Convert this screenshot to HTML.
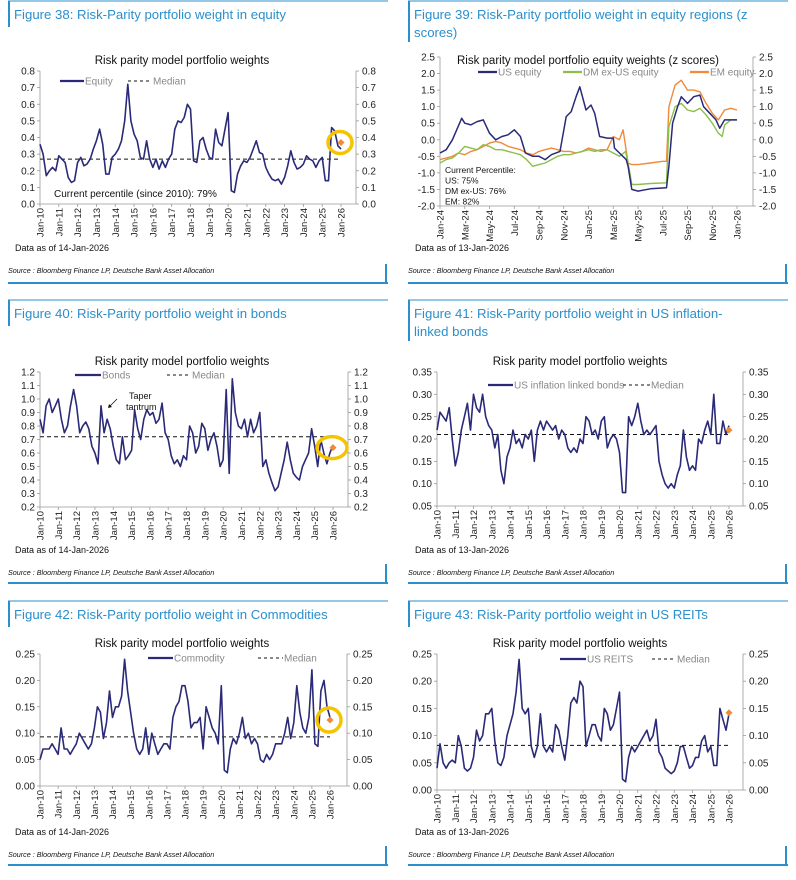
<!DOCTYPE html>
<html><head><meta charset="utf-8">
<style>
html,body{margin:0;padding:0;background:#fff;}
body{width:796px;height:880px;overflow:hidden;position:relative;font-family:"Liberation Sans",Arial,sans-serif;}
svg{position:absolute;left:0;top:0;}
</style></head>
<body>
<svg id="page" width="796" height="880" viewBox="0 0 796 880"></svg>
<script>
// ---------- DATA ----------
const yearLabels = ["Jan-10","Jan-11","Jan-12","Jan-13","Jan-14","Jan-15","Jan-16","Jan-17","Jan-18","Jan-19","Jan-20","Jan-21","Jan-22","Jan-23","Jan-24","Jan-25","Jan-26"];
// bi-monthly samples Jan-10 .. Jan-26
const equityValues = [0.36,0.30,0.17,0.20,0.22,0.20, 0.29,0.27,0.25,0.16,0.13,0.14, 0.25,0.28,0.23,0.24,0.27,0.33, 0.38,0.45,0.36,0.18,0.18,0.28, 0.30,0.33,0.38,0.50,0.72,0.50, 0.42,0.38,0.28,0.27,0.38,0.27, 0.22,0.27,0.21,0.26,0.22,0.27, 0.30,0.45,0.50,0.49,0.52,0.60, 0.57,0.26,0.25,0.38,0.40,0.33, 0.28,0.27,0.45,0.37,0.35,0.45, 0.55,0.08,0.07,0.18,0.23,0.26, 0.25,0.28,0.33,0.38,0.31,0.30, 0.22,0.18,0.15,0.14,0.15,0.12, 0.16,0.23,0.32,0.25,0.21,0.22, 0.24,0.29,0.27,0.26,0.22,0.26, 0.28,0.14,0.14,0.46,0.44,0.35, 0.33];
const equityMedian = 0.27, equityLatest = 0.37;
const bondValues = [0.85,0.75,0.95,1.00,0.90,0.95, 1.00,0.85,0.75,0.80,0.95,1.07, 0.95,0.75,0.80,0.83,0.78,0.65, 0.60,0.52,0.95,0.75,0.85,0.78, 0.65,0.55,0.52,0.72,0.55,0.58, 0.62,0.92,0.78,0.70,0.85,0.92, 0.88,0.90,0.82,0.85,0.97,0.75, 0.70,0.58,0.52,0.55,0.50,0.58, 0.55,0.80,0.75,0.60,0.65,0.82, 0.78,0.62,0.70,0.75,0.65,0.50, 0.55,1.07,0.45,1.15,0.90,0.80, 0.78,0.85,0.72,0.85,0.75,0.80, 0.90,0.50,0.55,0.45,0.38,0.32, 0.35,0.45,0.55,0.68,0.55,0.45, 0.42,0.40,0.50,0.55,0.60,0.78, 0.65,0.50,0.70,0.60,0.52,0.60, 0.66];
const bondMedian = 0.72, bondLatest = 0.64;
const tipsValues = [0.22,0.26,0.25,0.24,0.27,0.20, 0.14,0.17,0.22,0.25,0.28,0.22, 0.30,0.27,0.26,0.30,0.25,0.23, 0.22,0.18,0.21,0.13,0.10,0.16, 0.18,0.22,0.19,0.20,0.18,0.21, 0.20,0.22,0.15,0.22,0.24,0.22, 0.24,0.23,0.22,0.23,0.20,0.22, 0.21,0.18,0.17,0.18,0.17,0.20, 0.19,0.25,0.24,0.21,0.22,0.20, 0.24,0.25,0.18,0.20,0.21,0.20, 0.17,0.08,0.08,0.25,0.23,0.25, 0.28,0.24,0.21,0.22,0.21,0.22, 0.23,0.15,0.12,0.10,0.09,0.10, 0.09,0.12,0.14,0.22,0.16,0.13, 0.14,0.13,0.20,0.19,0.22,0.24, 0.21,0.30,0.19,0.19,0.24,0.21, 0.23];
const tipsMedian = 0.21, tipsLatest = 0.22;
const commodityValues = [0.05,0.07,0.07,0.07,0.08,0.07, 0.06,0.11,0.07,0.07,0.06,0.07, 0.08,0.10,0.09,0.08,0.07,0.08, 0.11,0.15,0.14,0.09,0.12,0.18, 0.13,0.15,0.15,0.17,0.24,0.18, 0.14,0.10,0.07,0.06,0.07,0.11, 0.06,0.10,0.08,0.06,0.07,0.08, 0.08,0.07,0.13,0.15,0.16,0.19, 0.19,0.16,0.11,0.12,0.12,0.13, 0.07,0.15,0.13,0.11,0.10,0.08, 0.19,0.03,0.025,0.07,0.09,0.08, 0.10,0.13,0.09,0.10,0.08,0.09, 0.08,0.05,0.045,0.06,0.05,0.06, 0.08,0.08,0.08,0.10,0.13,0.09, 0.12,0.19,0.14,0.11,0.10,0.13, 0.22,0.08,0.075,0.18,0.20,0.15, 0.13];
const commodityMedian = 0.093, commodityLatest = 0.125;
const reitValues = [0.04,0.085,0.05,0.04,0.05,0.055, 0.05,0.10,0.08,0.04,0.035,0.04, 0.06,0.11,0.09,0.10,0.14,0.14, 0.15,0.09,0.05,0.045,0.06,0.10, 0.12,0.14,0.18,0.24,0.15,0.14, 0.15,0.08,0.06,0.08,0.14,0.08, 0.07,0.08,0.07,0.12,0.11,0.08, 0.055,0.10,0.16,0.17,0.16,0.20, 0.19,0.08,0.10,0.12,0.12,0.10, 0.09,0.15,0.14,0.11,0.12,0.15, 0.18,0.02,0.015,0.06,0.08,0.07, 0.08,0.09,0.10,0.11,0.09,0.10, 0.13,0.07,0.06,0.04,0.035,0.03, 0.035,0.05,0.08,0.08,0.06,0.04, 0.045,0.06,0.06,0.09,0.10,0.07, 0.08,0.045,0.045,0.15,0.13,0.11, 0.14];
const reitMedian = 0.082, reitLatest = 0.142;
// Figure 39: months since Jan-24
const zMonthLabels = ["Jan-24","Mar-24","May-24","Jul-24","Sep-24","Nov-24","Jan-25","Mar-25","May-25","Jul-25","Sep-25","Nov-25","Jan-26"];
const usMonths = [0,0.5,1,1.75,2,2.5,3,3.5,4,4.5,5,5.5,6,6.5,6.9,7.5,8,8.5,9,9.7,10.2,10.6,11,11.3,11.8,12.2,12.5,12.9,13.5,14,14.1,14.5,15.05,15.2,15.5,16,17,18.3,18.5,18.8,19.2,19.5,20,20.5,21,21.3,21.8,22.3,22.6,23,23.5,24];
const usZ = [-0.4,-0.3,0.0,0.65,0.5,0.45,0.55,0.6,0.2,0.0,0.1,0.15,0.3,0.1,-0.4,-0.5,-0.5,-0.6,-0.45,-0.35,0.7,0.85,1.3,1.6,0.9,1.05,0.8,0.1,0.05,0.05,-0.25,-0.4,-0.6,-0.8,-1.5,-1.55,-1.48,-1.45,-0.8,0.5,1.0,1.3,1.1,1.3,1.35,1.0,0.8,0.6,0.35,0.6,0.6,0.6];
const dmMonths = [0,0.5,1,1.5,2,2.5,3,3.5,4,4.5,5,5.5,6,6.5,7,7.5,8,8.5,9,9.5,10,10.5,11,11.5,12,12.5,13,13.5,14,14.5,15,15.3,15.5,16,17,18.3,18.5,19,19.5,20,20.5,21,21.5,22,22.5,22.8,23,23.5,24];
const dmZ = [-0.7,-0.6,-0.55,-0.4,-0.2,-0.25,-0.3,-0.15,-0.2,-0.3,-0.3,-0.35,-0.4,-0.45,-0.6,-0.8,-0.75,-0.7,-0.6,-0.5,-0.45,-0.45,-0.4,-0.35,-0.3,-0.35,-0.3,-0.3,-0.4,-0.5,-0.35,-0.9,-1.35,-1.35,-1.32,-1.3,0.4,1.0,1.1,0.9,0.85,0.95,0.75,0.5,0.2,0.1,0.45,0.6,0.6];
const emMonths = [0,0.5,1,1.5,2,2.5,3,3.5,4,4.5,5,5.5,6,6.5,7,7.5,8,8.5,9,9.5,10,10.5,11,11.5,12,12.5,13,13.5,14,14.5,14.8,15.2,15.5,16,17,18,18.3,18.5,19,19.5,20,20.5,21,21.5,22,22.5,23,23.5,24];
const emZ = [-0.6,-0.55,-0.5,-0.4,-0.45,-0.35,-0.3,-0.2,-0.1,-0.05,-0.1,-0.2,-0.25,-0.3,-0.4,-0.45,-0.35,-0.3,-0.25,-0.3,-0.35,-0.35,-0.4,-0.35,-0.25,-0.3,-0.35,-0.3,0.1,0.0,0.3,-0.7,-0.75,-0.75,-0.7,-0.65,-0.65,1.0,1.65,1.8,1.5,1.5,1.45,1.1,0.8,0.6,0.9,0.95,0.9];

// ---------- DRAWING ----------
const NS = "http://www.w3.org/2000/svg";
const svg = document.getElementById("page");
const BLUE = "#2b8fcc", NAVY = "#2a2a78", ORANGE = "#f08a3a";
function mk(tag, attrs, parent, text){
  const e = document.createElementNS(NS, tag);
  for (const k in attrs) e.setAttribute(k, attrs[k]);
  if (text !== undefined) e.textContent = text;
  (parent || svg).appendChild(e);
  return e;
}

function frame(ox, oy, lines, topY, bottomY, name){
  const g = mk("g", {});
  
  
  mk("line", {x1:ox+8, y1:topY, x2:ox+388, y2:topY, stroke:BLUE, "stroke-width":1}, g);
  mk("rect", {x:ox+8, y:topY, width:2, height:lines.length>1?41:26, fill:BLUE}, g);
  lines.forEach((t,i)=>{
    const tx = mk("text", {x:ox+14, y:topY+18+i*18, "font-size":13.2, fill:BLUE}, g, t);
    
    
  });
  mk("rect", {x:ox+8, y:bottomY, width:380, height:2, fill:BLUE}, g);
  mk("rect", {x:ox+385, y:bottomY-18, width:2, height:20, fill:BLUE}, g);
}

function chart(c){
  const g = mk("g", {});
  
  
  const yScale = v => c.bot - (v - c.ymin) / (c.ymax - c.ymin) * (c.bot - c.top);
  const xScale = t => c.x0 + t * (c.x1 - c.x0);  // t in 0..1
  // axes
  mk("line", {x1:c.L, y1:c.top, x2:c.L, y2:c.bot, stroke:"#999", "stroke-width":0.8}, g);
  mk("line", {x1:c.R, y1:c.top, x2:c.R, y2:c.bot, stroke:"#999", "stroke-width":0.8}, g);
  mk("line", {x1:c.L, y1:c.bot, x2:c.R, y2:c.bot, stroke:"#999", "stroke-width":0.8}, g);
  const n = Math.round((c.ymax - c.ymin)/c.step);
  for (let i=0;i<=n;i++){
    const v = c.ymin + i*c.step, y = yScale(v);
    const lab = v.toFixed(c.dec);
    mk("line", {x1:c.L-3, y1:y, x2:c.L, y2:y, stroke:"#999", "stroke-width":0.8}, g);
    mk("line", {x1:c.R, y1:y, x2:c.R+3, y2:y, stroke:"#999", "stroke-width":0.8}, g);
    const a = mk("text", {x:c.L-5, y:y+3.5, "font-size":10, fill:"#222", "text-anchor":"end"}, g, lab);
    
    
    const b = mk("text", {x:c.R+6, y:y+3.5, "font-size":10, fill:"#222"}, g, lab);
    
    
  }
  c.xLabels.forEach((lab,i)=>{
    const x = xScale(i/(c.xLabels.length-1));
    mk("line", {x1:x, y1:c.bot, x2:x, y2:c.bot+3, stroke:"#999", "stroke-width":0.8}, g);
    const t = mk("text", {x:0, y:0, "font-size":9.5, fill:"#222", "text-anchor":"end", transform:`translate(${x+3.5},${c.bot+4}) rotate(-90)`}, g, lab);
    
    
  });
  // chart title
  const ct = mk("text", {x:c.tx, y:c.ty, "font-size":11.5, fill:"#111", "text-anchor":"middle"}, g, c.title);
  
  
  // median
  if (c.median !== undefined){
    const m = mk("line", {x1:c.x0, y1:yScale(c.median), x2:c.x1, y2:yScale(c.median), stroke:"#111", "stroke-width":1, "stroke-dasharray":"4,3"}, g);
    
    
  }
  // series
  c.series.forEach(s=>{
    const pts = s.values.map((v,i)=>{
      const t = s.t ? s.t[i]/c.tMax : i/(s.values.length-1);
      return xScale(t).toFixed(1)+","+yScale(v).toFixed(1);
    }).join(" ");
    const p = mk("polyline", {points:pts, fill:"none", stroke:s.color, "stroke-width":s.w||1.6, "stroke-linejoin":"round"}, g);
    
    
  });
  if (c.circle){
    const cy = yScale(c.latest);
    const ci = mk("ellipse", {cx:c.x1-1, cy:cy, rx:c.circle[0], ry:c.circle[1], fill:"none", stroke:"#f5c400", "stroke-width":3.5}, g);
    
    
  }
  if (c.latest !== undefined){
    const x = c.x1, y = yScale(c.latest);
    const d = mk("path", {d:`M${x} ${y-3.5}L${x+3.5} ${y}L${x} ${y+3.5}L${x-3.5} ${y}Z`, fill:ORANGE}, g);
    
    
  }
  // legend
  c.legend.forEach(l=>{
    const lg = mk("g", {}, g);
    
    
    mk("line", {x1:l.x1, y1:c.ly, x2:l.x2, y2:c.ly, stroke:l.color, "stroke-width":l.dash?1:2.2, "stroke-dasharray":l.dash?"3,3":"none"}, lg);
    mk("text", {x:l.x2+1, y:c.ly+3.5, "font-size":10, fill:"#888"}, lg, l.text);
  });
  // footer
  const da = mk("text", {x:c.footX, y:c.footY, "font-size":9, fill:"#111"}, g, c.dataAsOf);
  
  
  const so = mk("text", {x:c.footX-7, y:c.footY+22, "font-size":7.2, fill:"#111", "font-style":"italic"}, g, "Source : Bloomberg Finance LP, Deutsche Bank Asset Allocation");
  
  
  return {g, yScale, xScale};
}

// frames
frame(0, 0, ["Figure 38: Risk-Parity portfolio weight in equity"], 1, 282, "figure-38");
frame(400, 0, ["Figure 39: Risk-Parity portfolio weight in equity regions (z","scores)"], 1, 282, "figure-39");
frame(0, 295, ["Figure 40: Risk-Parity portfolio weight in bonds"], 300, 582, "figure-40");
frame(400, 295, ["Figure 41: Risk-Parity portfolio weight in US inflation-","linked bonds"], 300, 582, "figure-41");
frame(0, 590, ["Figure 42: Risk-Parity portfolio weight in Commodities"], 601, 864, "figure-42");
frame(400, 590, ["Figure 43: Risk-Parity portfolio weight in US REITs"], 601, 864, "figure-43");

const legendLine = (x1,x2,text)=>({x1,x2,text,color:NAVY});
const legendDash = (x1,x2)=>({x1,x2,text:"Median",color:"#111",dash:true});

const c1 = chart({name:"equity-weight-chart", L:40,R:356,top:71,bot:204,ymin:0,ymax:0.8,step:0.1,dec:1,x0:40,x1:341,
  xLabels:yearLabels, title:"Risk parity model portfolio weights", tx:182, ty:64,
  median:equityMedian, latest:equityLatest, circle:[12,11],
  series:[{name:"equity-line", values:equityValues, color:NAVY}],
  ly:81, legend:[legendLine(60,84,"Equity"), legendDash(128,152)],
  footX:15, footY:251, dataAsOf:"Data as of 14-Jan-2026"});
const pt = mk("text", {x:54, y:197, "font-size":10, fill:"#111"}, c1.g, "Current percentile (since 2010): 79%");



const c2 = chart({name:"equity-regions-zscore-chart", L:440,R:753,top:57,bot:206,ymin:-2,ymax:2.5,step:0.5,dec:1,x0:440,x1:737,
  xLabels:zMonthLabels, tMax:24, title:"Risk parity model portfolio equity weights (z scores)", tx:588, ty:64,
  series:[
    {name:"em-equity-line", values:emZ, t:emMonths, color:ORANGE, w:1.4},
    {name:"dm-ex-us-equity-line", values:dmZ, t:dmMonths, color:"#8cbf4a", w:1.4},
    {name:"us-equity-line", values:usZ, t:usMonths, color:NAVY, w:1.5}],
  ly:72, legend:[legendLine(478,497,"US equity"), {x1:563,x2:582,text:"DM ex-US equity",color:"#8cbf4a"}, {x1:690,x2:709,text:"EM equity",color:ORANGE}],
  footX:415, footY:251, dataAsOf:"Data as of 13-Jan-2026"});
["Current Percentile:","US: 75%","DM ex-US: 76%","EM: 82%"].forEach((t,i)=>{
  const e = mk("text", {x:445, y:173+i*10.5, "font-size":8.5, fill:"#111"}, c2.g, t);
  
  
});

const c3 = chart({name:"bond-weight-chart", L:40,R:348,top:372,bot:507,ymin:0.2,ymax:1.2,step:0.1,dec:1,x0:40,x1:333,
  xLabels:yearLabels, title:"Risk parity model portfolio weights", tx:182, ty:365,
  median:bondMedian, latest:bondLatest, circle:[15,11],
  series:[{name:"bonds-line", values:bondValues, color:NAVY}],
  ly:375, legend:[legendLine(75,101,"Bonds"), legendDash(167,191)],
  footX:15, footY:553, dataAsOf:"Data as of 14-Jan-2026"});
const tt1 = mk("text", {x:129, y:399, "font-size":9, fill:"#111"}, c3.g, "Taper");


mk("text", {x:126, y:410, "font-size":9, fill:"#111"}, c3.g, "tantrum");
mk("line", {x1:117, y1:399, x2:109, y2:407, stroke:"#111", "stroke-width":0.8}, c3.g);
mk("path", {d:"M108 408 L109 404 L112 407 Z", fill:"#111"}, c3.g);

chart({name:"tips-weight-chart", L:437,R:743,top:372,bot:506,ymin:0.05,ymax:0.35,step:0.05,dec:2,x0:437,x1:729,
  xLabels:yearLabels, title:"Risk parity model portfolio weights", tx:580, ty:365,
  median:tipsMedian, latest:tipsLatest,
  series:[{name:"us-inflation-linked-bonds-line", values:tipsValues, color:NAVY}],
  ly:385, legend:[legendLine(488,513,"US inflation linked bonds"), legendDash(623,650)],
  footX:415, footY:553, dataAsOf:"Data as of 13-Jan-2026"});

chart({name:"commodity-weight-chart", L:40,R:347,top:654,bot:786,ymin:0,ymax:0.25,step:0.05,dec:2,x0:40,x1:330,
  xLabels:yearLabels, title:"Risk parity model portfolio weights", tx:182, ty:647,
  median:commodityMedian, latest:commodityLatest, circle:[12,12],
  series:[{name:"commodity-line", values:commodityValues, color:NAVY}],
  ly:658, legend:[legendLine(148,173,"Commodity"), legendDash(258,283)],
  footX:15, footY:835, dataAsOf:"Data as of 14-Jan-2026"});

chart({name:"reit-weight-chart", L:437,R:743,top:654,bot:790,ymin:0,ymax:0.25,step:0.05,dec:2,x0:437,x1:729,
  xLabels:yearLabels, title:"Risk parity model portfolio weights", tx:580, ty:647,
  median:reitMedian, latest:reitLatest,
  series:[{name:"us-reits-line", values:reitValues, color:NAVY}],
  ly:659, legend:[legendLine(560,586,"US REITS"), legendDash(652,676)],
  footX:415, footY:835, dataAsOf:"Data as of 13-Jan-2026"});
</script>
</body></html>
